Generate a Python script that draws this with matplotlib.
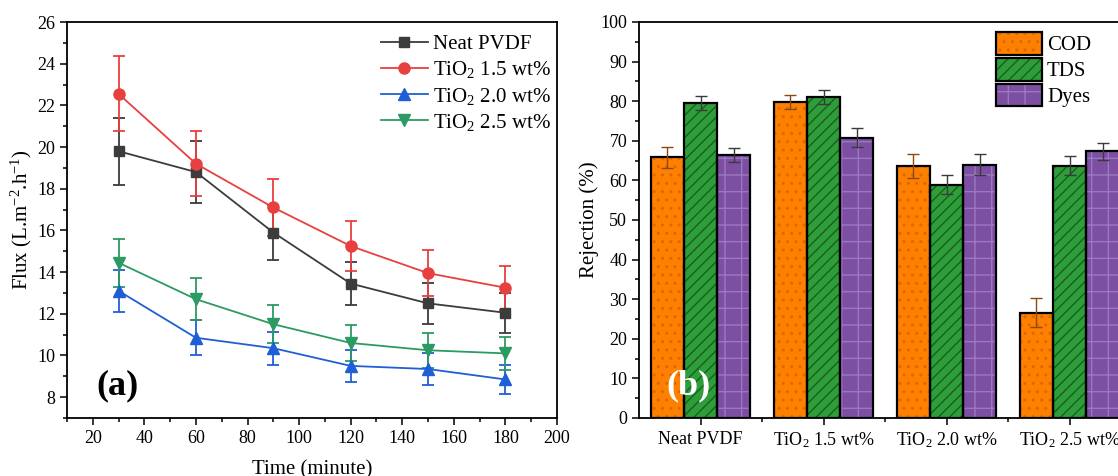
import matplotlib
matplotlib.use('Agg')
import matplotlib.pyplot as plt
import numpy as np
from matplotlib.patches import Patch
from matplotlib.lines import Line2D
from matplotlib.ticker import MultipleLocator, FixedLocator

plt.rcParams['font.family'] = ['Liberation Serif', 'DejaVu Serif']
plt.rcParams['mathtext.fontset'] = 'custom'
plt.rcParams['mathtext.rm'] = 'Liberation Serif'
plt.rcParams['mathtext.it'] = 'Liberation Serif:italic'
plt.rcParams['mathtext.bf'] = 'Liberation Serif:bold'
plt.rcParams['hatch.linewidth'] = 1.0

# ---- (a) flux vs time ----
time_min = [30, 60, 90, 120, 150, 180]
flux_neat = [19.8, 18.8, 15.9, 13.45, 12.5, 12.05]
flux_neat_err = [1.6, 1.5, 1.3, 1.05, 1.0, 0.95]
flux_15 = [22.55, 19.2, 17.1, 15.25, 13.95, 13.25]
flux_15_err = [1.8, 1.55, 1.35, 1.2, 1.1, 1.05]
flux_20 = [13.1, 10.85, 10.35, 9.5, 9.35, 8.85]
flux_20_err = [1.0, 0.85, 0.8, 0.75, 0.75, 0.7]
flux_25 = [14.45, 12.7, 11.5, 10.6, 10.25, 10.1]
flux_25_err = [1.15, 1.0, 0.9, 0.85, 0.85, 0.8]

# ---- (b) rejection ----
membranes = ['Neat PVDF', 'TiO$_2$ 1.5 wt%', 'TiO$_2$ 2.0 wt%', 'TiO$_2$ 2.5 wt%']
cod = [65.8, 79.8, 63.7, 26.6]
cod_err = [2.7, 1.8, 3.0, 3.6]
tds = [79.5, 81.1, 58.9, 63.7]
tds_err = [1.8, 1.7, 2.4, 2.4]
dyes = [66.4, 70.8, 64.0, 67.3]
dyes_err = [1.8, 2.4, 2.7, 2.2]

fig = plt.figure(figsize=(11.18, 4.76), dpi=100)

ax1 = fig.add_axes([67/1118, 58/476, (557-67)/1118, (418-22)/476])
series = [
    (flux_neat, flux_neat_err, 'Neat PVDF', '#3c3c3c', 's', 7),
    (flux_15, flux_15_err, 'TiO$_2$ 1.5 wt%', '#e8403f', 'o', 8),
    (flux_20, flux_20_err, 'TiO$_2$ 2.0 wt%', '#1f5fd6', '^', 8),
    (flux_25, flux_25_err, 'TiO$_2$ 2.5 wt%', '#2c9a63', 'v', 8),
]
line_handles = []
for vals, errs, lab, col, mk, ms in series:
    ax1.errorbar(time_min, vals, yerr=errs, color=col, marker=mk, ms=ms,
                 lw=1.3, elinewidth=1.3, capsize=4, capthick=1.3)
    line_handles.append(Line2D([], [], color=col, marker=mk, ms=ms, lw=1.3))
ax1.set_xlim(10, 200)
ax1.set_ylim(7, 26)
ax1.xaxis.set_major_locator(MultipleLocator(20))
ax1.xaxis.set_minor_locator(MultipleLocator(10))
ax1.yaxis.set_major_locator(MultipleLocator(2))
ax1.yaxis.set_minor_locator(MultipleLocator(1))
ax1.set_xticks(np.arange(20, 201, 20))
ax1.tick_params(which='major', direction='out', length=5, width=1.1, labelsize=13)
ax1.tick_params(which='minor', direction='out', length=3, width=1.1)
ax1.set_xlabel('Time (minute)', fontsize=15, labelpad=10)
ax1.set_ylabel('Flux (L.m$^{-2}$.h$^{-1}$)', fontsize=15, labelpad=2)
for s in ax1.spines.values():
    s.set_linewidth(1.3)
ax1.legend(line_handles, [s[2] for s in series], loc='upper right', frameon=False,
           fontsize=15, handlelength=2.3, labelspacing=0.25, borderaxespad=0.2,
           handletextpad=0.2, bbox_to_anchor=(1.012, 1.0))
ax1.text(0.06, 0.04, '(a)', transform=ax1.transAxes, fontsize=26,
         fontweight='bold', ha='left', va='bottom')

# ---- (b) panel ----
ax2 = fig.add_axes([639/1118, 58/476, (1131-639)/1118, (418-22)/476])
x = np.arange(len(membranes))
w = 0.27
bar_specs = [
    (cod, cod_err, 'COD', '#ff8000', '..', '#d96a00', '#8a4a10', -w),
    (tds, tds_err, 'TDS', '#2e9e3a', '///', '#1a5e20', '#3a3a3a', 0),
    (dyes, dyes_err, 'Dyes', '#7d4fa3', '+', '#9a78bf', '#3a3a3a', w),
]
handles = []
for vals, errs, lab, fc, hatch, hc, ec, off in bar_specs:
    ax2.bar(x + off, vals, w, color=fc, edgecolor='none', zorder=2)
    ax2.bar(x + off, vals, w, facecolor='none', edgecolor=hc, hatch=hatch,
            linewidth=0, zorder=3)
    ax2.bar(x + off, vals, w, facecolor='none', edgecolor='black',
            linewidth=1.6, zorder=4)
    ax2.errorbar(x + off, vals, yerr=errs, fmt='none', ecolor=ec,
                 elinewidth=1.0, capsize=4, capthick=1.0, zorder=5)
    handles.append((Patch(facecolor=fc, edgecolor='none'),
                    Patch(facecolor='none', edgecolor=hc, hatch=hatch, linewidth=0),
                    Patch(facecolor='none', edgecolor='black', linewidth=1.6)))
ax2.set_xlim(-0.5, 3.5)
ax2.set_ylim(0, 100)
ax2.set_xticks(x)
ax2.set_xticklabels(membranes)
ax2.xaxis.set_minor_locator(FixedLocator([0.5, 1.5, 2.5]))
ax2.yaxis.set_major_locator(MultipleLocator(10))
ax2.yaxis.set_minor_locator(MultipleLocator(5))
ax2.tick_params(which='major', direction='out', length=5, width=1.1, labelsize=13)
ax2.tick_params(which='minor', direction='out', length=3, width=1.1)
ax2.tick_params(axis='x', pad=4)
ax2.set_ylabel('Rejection (%)', fontsize=15, labelpad=1)
for s in ax2.spines.values():
    s.set_linewidth(1.3)
ax2.legend(handles, ['COD', 'TDS', 'Dyes'], loc='upper left',
           bbox_to_anchor=(996/1118, 1 - 32/476), bbox_transform=fig.transFigure,
           frameon=False, fontsize=15, handlelength=2.2, handleheight=1.3,
           labelspacing=0.12, handletextpad=0.25, borderaxespad=0, borderpad=0)
ax2.text(0.1, 0.04, '(b)', transform=ax2.transAxes, fontsize=26,
         fontweight='bold', color='white', ha='center', va='bottom', zorder=6)

fig.savefig('out.png', dpi=100)
